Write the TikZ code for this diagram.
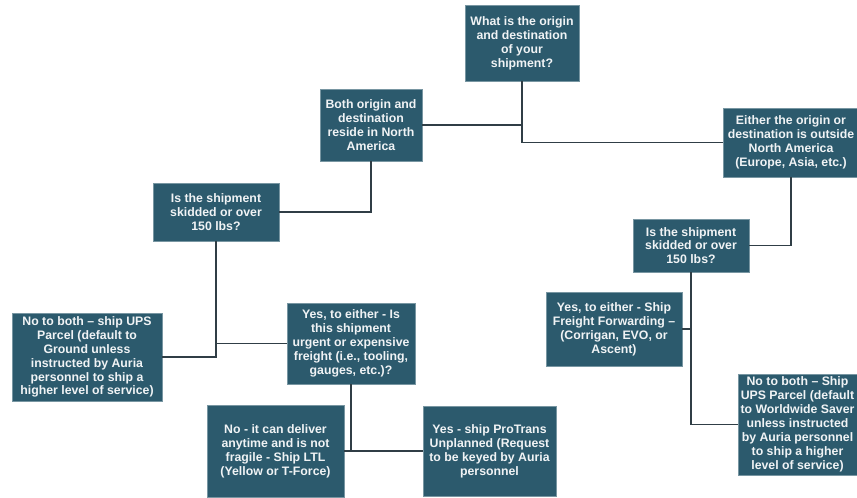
\documentclass[tikz,border=0pt]{standalone}
\usepackage{fontspec}
\setmainfont{Liberation Sans}
\usepackage{tikz}
\usetikzlibrary{calc, positioning}
\tikzset{>=latex}
\definecolor{boxblue}{RGB}{44, 90, 109}
\definecolor{boxedge}{RGB}{120, 150, 162}
\definecolor{linegray}{RGB}{48, 62, 70}
\definecolor{textwhite}{RGB}{240, 243, 245}
\tikzset{
  decbox/.style = {fill = boxblue, draw = boxedge, line width = 0.5pt, align = center,
    text = textwhite, inner sep = 2pt,
    font = \fontsize{12.3}{13.9}\selectfont\bfseries},
  link/.style = {draw = linegray, line width = 1.9pt}
}

\begin{document}
\begin{tikzpicture}[x=1pt, y=-1pt]
\useasboundingbox (0,0) rectangle (857,498);
\clip (0,0) rectangle (857,498);
\node[decbox, minimum width = 114, minimum height = 76] (origin) at (522,43)
  {What is the origin\\and destination\\of your\\shipment?};
\node[decbox, minimum width = 102, minimum height = 72] (inside) at (371,125)
  {Both origin and\\destination\\reside in North\\America};
\node[decbox, minimum width = 136, minimum height = 69] (outside) at (791,142.5)
  {Either the origin or\\destination is outside\\North America\\(Europe, Asia, etc.)};
\node[decbox, minimum width = 126, minimum height = 58] (weightna) at (216,212)
  {Is the shipment\\skidded or over\\150 lbs?};
\node[decbox, minimum width = 116, minimum height = 53] (weightint) at (691,245.5)
  {Is the shipment\\skidded or over\\150 lbs?};
\node[decbox, minimum width = 150, minimum height = 88] (upsground) at (87,357)
  {No to both -- ship UPS\\Parcel (default to\\Ground unless\\instructed by Auria\\personnel to ship a\\higher level of service)};
\node[decbox, minimum width = 128, minimum height = 81] (urgent) at (351,343.5)
  {Yes, to either - Is\\this shipment\\urgent or expensive\\freight (i.e., tooling,\\gauges, etc.)?};
\node[decbox, minimum width = 137, minimum height = 92] (ltl) at (275.5,451)
  {No - it can deliver\\anytime and is not\\fragile - Ship LTL\\(Yellow or T-Force)};
\node[decbox, minimum width = 133, minimum height = 90] (protrans) at (489.5,451)
  {Yes - ship ProTrans\\Unplanned (Request\\to be keyed by Auria\\personnel};
\node[decbox, minimum width = 136, minimum height = 74] (forwarding) at (614,329)
  {Yes, to either - Ship\\Freight Forwarding --\\(Corrigan, EVO, or\\Ascent)};
\node[decbox, minimum width = 119, minimum height = 101] (upssaver) at (797.5,424.5)
  {No to both -- Ship\\UPS Parcel (default\\to Worldwide Saver\\unless instructed\\by Auria personnel\\to ship a higher\\level of service)};

\draw[link] (origin.south) |- (outside.west);
\draw[link] (origin.south |- inside.east) -- (inside.east);
\draw[link] (inside.south) |- (weightna.east);
\draw[link] (weightna.south) |- (upsground.east);
\draw[link] (weightna.south |- urgent.west) -- (urgent.west);
\draw[link] (urgent.south) -- (urgent.south |- protrans.west);
\draw[link] (ltl.east) -- (protrans.west);
\draw[link] (outside.south) |- (weightint.east);
\draw[link] (weightint.south) |- (upssaver.west);
\draw[link] (weightint.south |- forwarding.east) -- (forwarding.east);
\end{tikzpicture}
\end{document}
